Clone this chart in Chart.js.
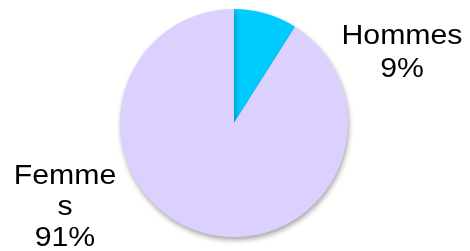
<!DOCTYPE html>
<html>
<head>
<meta charset="utf-8">
<script src="https://cdn.jsdelivr.net/npm/chart.js@4"></script>
<style>
  html, body { margin: 0; padding: 0; background: #fff; }
  #wrap { width: 470px; height: 251px; }
</style>
</head>
<body>
<div id="wrap"><canvas id="pie"></canvas></div>
<script>
const labels = ["Hommes", "Femmes"];
const values = [9, 91];
const colors = ["#00CCFF", "#DCD0FF"];

// split lines for the outside labels, as in the picture
const labelLines = [["Hommes", "9%"], ["Femme", "s", "91%"]];

const shadowPlugin = {
  id: "shadow",
  beforeDatasetDraw(chart) {
    const ctx = chart.ctx;
    ctx.save();
    ctx.shadowColor = "rgba(0,0,0,0.35)";
    ctx.shadowBlur = 5;
    ctx.shadowOffsetX = 1;
    ctx.shadowOffsetY = 3;
  },
  afterDatasetDraw(chart) {
    chart.ctx.restore();
  }
};

const labelPlugin = {
  id: "outLabels",
  afterDraw(chart) {
    const ctx = chart.ctx;
    const spots = [{ x: 402, y: 44, lh: 33 }, { x: 65, y: 184, lh: 31 }];
    ctx.save();
    ctx.fillStyle = "#000";
    ctx.font = "27px 'Liberation Sans', Arial, sans-serif";
    ctx.textAlign = "center";
    ctx.textBaseline = "alphabetic";
    labelLines.forEach((lines, i) => {
      lines.forEach((t, j) => {
        ctx.save();
        ctx.translate(spots[i].x, spots[i].y + j * spots[i].lh);
        ctx.scale(1.12, 1);
        ctx.fillText(t, 0, 0);
        ctx.restore();
      });
    });
    ctx.restore();
  }
};

new Chart(document.getElementById("pie"), {
  type: "pie",
  data: {
    labels: labels,
    datasets: [{
      data: values,
      backgroundColor: colors,
      borderWidth: 0
    }]
  },
  options: {
    responsive: true,
    maintainAspectRatio: false,
    animation: false,
    layout: { padding: { left: 120, right: 122, top: 9, bottom: 14 } },
    plugins: {
      legend: { display: false },
      tooltip: { enabled: false }
    }
  },
  plugins: [shadowPlugin, labelPlugin]
});
</script>
</body>
</html>
